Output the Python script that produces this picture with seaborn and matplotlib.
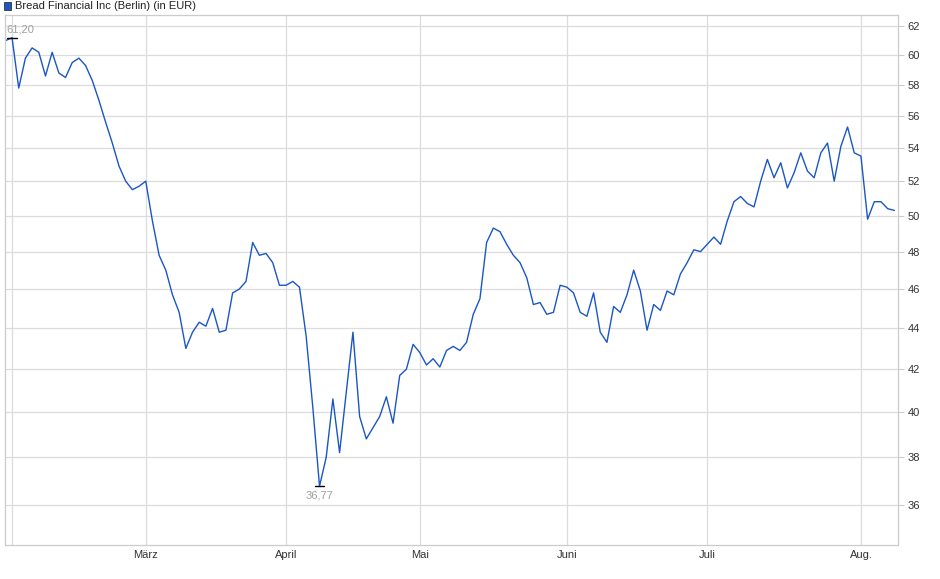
import numpy as np
import pandas as pd
import matplotlib
matplotlib.use("Agg")
import matplotlib.pyplot as plt
from matplotlib.ticker import FixedLocator, NullLocator
import seaborn as sns

# Kursdaten, Handelstage ab 30.01.2025
kurse = [
    61.0, 61.2, 57.8, 59.8, 60.5, 60.2, 58.6, 60.2, 58.8, 58.5,
    59.5, 59.8, 59.3, 58.3, 57.0, 55.6, 54.3, 52.9, 52.0, 51.5,
    51.7, 52.0, 49.7, 47.8, 47.0, 45.7, 44.8, 43.0, 43.8, 44.3,
    44.1, 45.0, 43.8, 43.9, 45.8, 46.0, 46.4, 48.5, 47.8, 47.9,
    47.4, 46.2, 46.2, 46.4, 46.1, 43.6, 40.2, 36.77,
    38.0, 40.6, 38.2, 40.9, 43.8, 39.8, 38.8, 39.3, 39.8, 40.7,
    39.5, 41.7, 42.0, 43.2, 42.8, 42.2, 42.5, 42.1, 42.9, 43.1,
    42.9, 43.3, 44.7, 45.5, 48.5, 49.3, 49.1, 48.4, 47.8, 47.4,
    46.6, 45.2, 45.3, 44.7, 44.8, 46.2, 46.1, 45.8, 44.8, 44.6,
    45.8, 43.8, 43.3, 45.1,
    44.8, 45.7, 47.0, 45.9, 43.9, 45.2, 44.9, 45.9, 45.7, 46.8,
    47.4, 48.1, 48.0, 48.4, 48.8, 48.4, 49.7, 50.8, 51.1,
    50.7, 50.5, 52.0, 53.3, 52.2, 53.1, 51.6, 52.5, 53.7, 52.6,
    52.2, 53.7, 54.3, 52.0, 54.1, 55.3, 53.7, 53.5, 49.8, 50.8,
    50.8, 50.4, 50.3,
]
feiertage = ["2025-04-18", "2025-04-21"]
tage = pd.bdate_range("2025-01-30", "2025-08-07")
tage = tage[~tage.isin(pd.to_datetime(feiertage))]
n = min(len(tage), len(kurse))
df = pd.DataFrame({"datum": tage[:n], "kurs": kurse[:n]})
df["idx"] = np.arange(n)

monate = ["2025-02", "2025-03", "2025-04", "2025-05", "2025-06", "2025-07", "2025-08"]
monat_labels = ["", "März", "April", "Mai", "Juni", "Juli", "Aug."]
y_ticks = [36, 38, 40, 42, 44, 46, 48, 50, 52, 54, 56, 58, 60, 62]

sns.set_style("white")
plt.rcParams["font.family"] = ["Liberation Sans", "DejaVu Sans"]

fig = plt.figure(figsize=(9.4, 5.79), dpi=100)
ax = fig.add_axes([0.005, 0.059, 0.950, 0.915])
sns.lineplot(data=df, x="idx", y="kurs", ax=ax, color="#1a56c4", linewidth=1.0)

ax.set_yscale("log")
ax.set_ylim(34.4, 62.8)
ax.set_xlim(-0.1, n - 1 + 0.5)
ax.yaxis.set_major_locator(FixedLocator(y_ticks))
ax.yaxis.set_minor_locator(NullLocator())
ax.set_yticklabels([str(t) for t in y_ticks])
ax.yaxis.tick_right()

# Monatsticks am ersten Handelstag des Monats
monat_pos = []
for m in monate:
    first = df.index[df["datum"].dt.strftime("%Y-%m") == m][0]
    monat_pos.append(first - 1)
ax.set_xticks(monat_pos)
ax.set_xticklabels(monat_labels)
ax.tick_params(axis="both", labelsize=8, colors="#333333", length=0, pad=4)
ax.tick_params(axis="y", length=4, color="#cccccc", pad=3)
ax.set_xlabel("")
ax.set_ylabel("")
ax.grid(True, color="#dcdcdc", linewidth=0.9)
for s in ax.spines.values():
    s.set_color("#cccccc")
    s.set_linewidth(0.9)

# Hoch / Tief markieren
i_max = df["kurs"].idxmax()
i_min = df["kurs"].idxmin()
v_max, v_min = df.loc[i_max, "kurs"], df.loc[i_min, "kurs"]
for i, v in [(i_max, v_max), (i_min, v_min)]:
    ax.plot([i - 0.7, i + 0.7], [v, v], color="black", linewidth=1)
ax.annotate(f"{v_max:.2f}".replace(".", ","), (i_max, v_max), xytext=(-4, 2), textcoords="offset points",
            ha="left", va="bottom", fontsize=8, color="#a0a0a0")
ax.annotate(f"{v_min:.2f}".replace(".", ","), (i_min, v_min), xytext=(0, -3), textcoords="offset points",
            ha="center", va="top", fontsize=8, color="#a0a0a0")

# Legende oben links
fig.patches.append(plt.Rectangle((0.004, 0.983), 0.008, 0.013, transform=fig.transFigure,
                                 facecolor="#1a56c4", edgecolor="#333333", linewidth=0.6))
fig.text(0.016, 0.989, "Bread Financial Inc (Berlin) (in EUR)", fontsize=8, color="#222222", va="center")

fig.savefig("out.png", dpi=100)
